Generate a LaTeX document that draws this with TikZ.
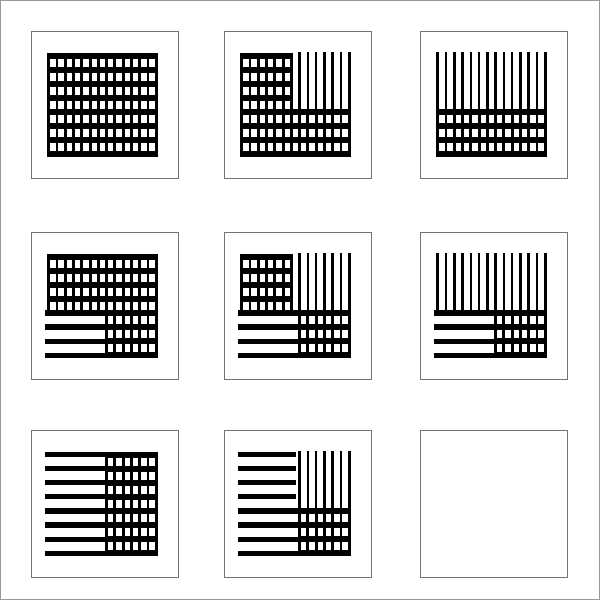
\documentclass[tikz,border=0pt]{standalone}
\usepackage{tikz}

\tikzset{
  frame/.style={draw=black!55, line width=0.8pt},
  pattern area/.style={shift={(17.75,24.5)}, x=8.27pt, y=-14.1pt},
  hbar/.style={line width=6pt},
  vbar/.style={line width=2.9pt},
  vline/.style={line width=2.6pt},
  hline/.style={line width=5.2pt}
}

% grid: columns #1..#2, rows #3..#4
\newcommand{\gridpart}[4]{%
  \foreach \r in {#3,...,#4} \draw[hbar] (#1-0.2,\r) -- (#2+0.2,\r);
  \foreach \c in {#1,...,#2} \draw[vbar] (\c,#3) -- (\c,#4);
}
% vertical lines only (upper half)
\newcommand{\vertpart}[2]{%
  \foreach \c in {#1,...,#2} \draw[vline] (\c,-0.22) -- (\c,4);
}
% horizontal bars only: rows #1..#2, ending at column #3
\newcommand{\horizpart}[3]{%
  \foreach \r in {#1,...,#2} \draw[hline] (-0.45,\r) -- (#3,\r);
}

\begin{document}
\begin{tikzpicture}[x=1pt, y=-1pt]
    \useasboundingbox (0,0) rectangle (600,600);
    \draw[draw=black!40, line width=1pt] (0.5,0.5) rectangle (599.5,599.5);

    % row 1
    \begin{scope}[shift={(31,31)}]
        \draw[frame] (0,0) rectangle (147,147);
        \begin{scope}[pattern area]
            \gridpart{0}{13}{0}{7}
        \end{scope}
    \end{scope}
    \begin{scope}[shift={(224,31)}]
        \draw[frame] (0,0) rectangle (147,147);
        \begin{scope}[pattern area]
            \gridpart{0}{6}{0}{4}
            \vertpart{7}{13}
            \gridpart{0}{13}{4}{7}
        \end{scope}
    \end{scope}
    \begin{scope}[shift={(420,31)}]
        \draw[frame] (0,0) rectangle (147,147);
        \begin{scope}[pattern area]
            \vertpart{0}{13}
            \gridpart{0}{13}{4}{7}
        \end{scope}
    \end{scope}

    % row 2
    \begin{scope}[shift={(31,232)}]
        \draw[frame] (0,0) rectangle (147,147);
        \begin{scope}[pattern area]
            \gridpart{0}{13}{0}{4}
            \horizpart{4}{7}{7}
            \gridpart{7}{13}{4}{7}
        \end{scope}
    \end{scope}
    \begin{scope}[shift={(224,232)}]
        \draw[frame] (0,0) rectangle (147,147);
        \begin{scope}[pattern area]
            \gridpart{0}{6}{0}{4}
            \vertpart{7}{13}
            \horizpart{4}{7}{7}
            \gridpart{7}{13}{4}{7}
        \end{scope}
    \end{scope}
    \begin{scope}[shift={(420,232)}]
        \draw[frame] (0,0) rectangle (147,147);
        \begin{scope}[pattern area]
            \vertpart{0}{13}
            \horizpart{4}{7}{7}
            \gridpart{7}{13}{4}{7}
        \end{scope}
    \end{scope}

    % row 3
    \begin{scope}[shift={(31,430)}]
        \draw[frame] (0,0) rectangle (147,147);
        \begin{scope}[pattern area]
            \horizpart{0}{7}{7}
            \gridpart{7}{13}{0}{7}
        \end{scope}
    \end{scope}
    \begin{scope}[shift={(224,430)}]
        \draw[frame] (0,0) rectangle (147,147);
        \begin{scope}[pattern area]
            \horizpart{0}{3}{6.5}
            \vertpart{7}{13}
            \horizpart{4}{7}{7}
            \gridpart{7}{13}{4}{7}
        \end{scope}
    \end{scope}
    \begin{scope}[shift={(420,430)}]
        \draw[frame] (0,0) rectangle (147,147);
    \end{scope}

\end{tikzpicture}
\end{document}
